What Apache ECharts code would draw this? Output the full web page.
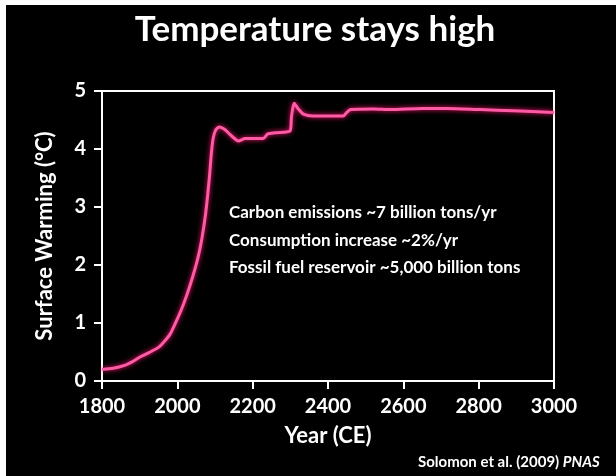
<!DOCTYPE html>
<html>
<head>
<meta charset="utf-8">
<script src="https://cdn.jsdelivr.net/npm/echarts@6/dist/echarts.min.js"></script>
<style>
  html, body { margin: 0; padding: 0; background: #fff; }
  #chart { width: 616px; height: 476px; }
</style>
</head>
<body>
<div id="chart"></div>
<script>
// simulated warming
var years = [1800, 1830, 1860, 1880, 1900, 1925, 1950, 1965, 1980, 1995, 2010, 2025, 2040, 2055, 2065, 2075, 2085, 2090, 2095, 2102, 2112, 2125, 2145, 2162, 2180, 2200, 2228, 2240, 2260, 2299, 2303, 2310, 2320, 2335, 2360, 2440, 2450, 2460, 2520, 2565, 2650, 2716, 2804, 2892, 3000];
var warming = [0.20, 0.22, 0.27, 0.33, 0.41, 0.49, 0.58, 0.68, 0.80, 1.00, 1.22, 1.48, 1.78, 2.13, 2.45, 2.88, 3.50, 3.90, 4.18, 4.33, 4.38, 4.34, 4.22, 4.14, 4.18, 4.18, 4.18, 4.26, 4.28, 4.31, 4.55, 4.79, 4.70, 4.60, 4.57, 4.57, 4.63, 4.68, 4.69, 4.68, 4.70, 4.70, 4.68, 4.66, 4.63];
var notes = [
  "Carbon emissions ~7 billion tons/yr",
  "Consumption increase ~2%/yr",
  "Fossil fuel reservoir ~5,000 billion tons"
];

var font = "Lato, 'Open Sans', sans-serif";
var chart = echarts.init(document.getElementById("chart"));

var noteText = notes.map(function (t, i) {
  return {
    type: "text",
    x: 229,
    y: 213 + i * 27.5,
    z: 10,
    style: {
      text: t,
      fill: "#fff",
      font: "bold 17px " + font,
      verticalAlign: "middle"
    }
  };
});

chart.setOption({
  backgroundColor: "#fff",
  animation: false,
  grid: {
    left: 102,
    right: 62,
    top: 91,
    bottom: 95,
    show: true,
    borderColor: "#fff",
    borderWidth: 2
  },
  xAxis: {
    type: "value",
    min: 1800,
    max: 3000,
    interval: 200,
    name: "Year (CE)",
    nameLocation: "middle",
    nameGap: 44,
    nameTextStyle: { color: "#fff", fontSize: 22, fontWeight: "bold", fontFamily: font },
    axisLine: { lineStyle: { color: "#fff", width: 2 } },
    axisTick: { show: true, inside: false, length: 8, lineStyle: { color: "#fff", width: 2 } },
    axisLabel: {
      color: "#fff", fontSize: 20, fontWeight: "bold", fontFamily: font, margin: 16,
      formatter: function (v) { return String(v); }
    },
    splitLine: { show: false }
  },
  yAxis: {
    type: "value",
    min: 0,
    max: 5,
    interval: 1,
    name: "Surface Warming (°C)",
    nameLocation: "middle",
    nameRotate: 90,
    nameGap: 46,
    nameTextStyle: { color: "#fff", fontSize: 22, fontWeight: "bold", fontFamily: font },
    axisLine: { show: true, lineStyle: { color: "#fff", width: 2 } },
    axisTick: { show: true, inside: false, length: 8, lineStyle: { color: "#fff", width: 2 } },
    axisLabel: { color: "#fff", fontSize: 20, fontWeight: "bold", fontFamily: font, margin: 16 },
    splitLine: { show: false }
  },
  graphic: [
    {
      type: "rect",
      z: -10,
      silent: true,
      shape: { x: 6, y: 5, width: 610, height: 471 },
      style: { fill: "#000" }
    },
    {
      type: "text",
      x: 315,
      y: 30,
      z: 10,
      style: {
        text: "Temperature stays high",
        fill: "#fff",
        font: "bold 35px " + font,
        textAlign: "center",
        verticalAlign: "middle"
      }
    },
    {
      type: "text",
      x: 418,
      y: 462,
      z: 10,
      style: {
        text: "{a|Solomon et al. (2009) }{b|PNAS}",
        verticalAlign: "middle",
        rich: {
          a: { fill: "#fff", font: "bold 15px " + font },
          b: { fill: "#fff", font: "italic bold 15px " + font }
        }
      }
    }
  ].concat(noteText),
  series: [
    {
      type: "line",
      data: years.map(function (y, i) { return [y, warming[i]]; }),
      smooth: 0.25,
      symbol: "none",
      lineStyle: {
        color: "#ff5aa5",
        width: 3,
        shadowColor: "#ff1a70",
        shadowBlur: 5
      }
    }
  ]
});
</script>
</body>
</html>
